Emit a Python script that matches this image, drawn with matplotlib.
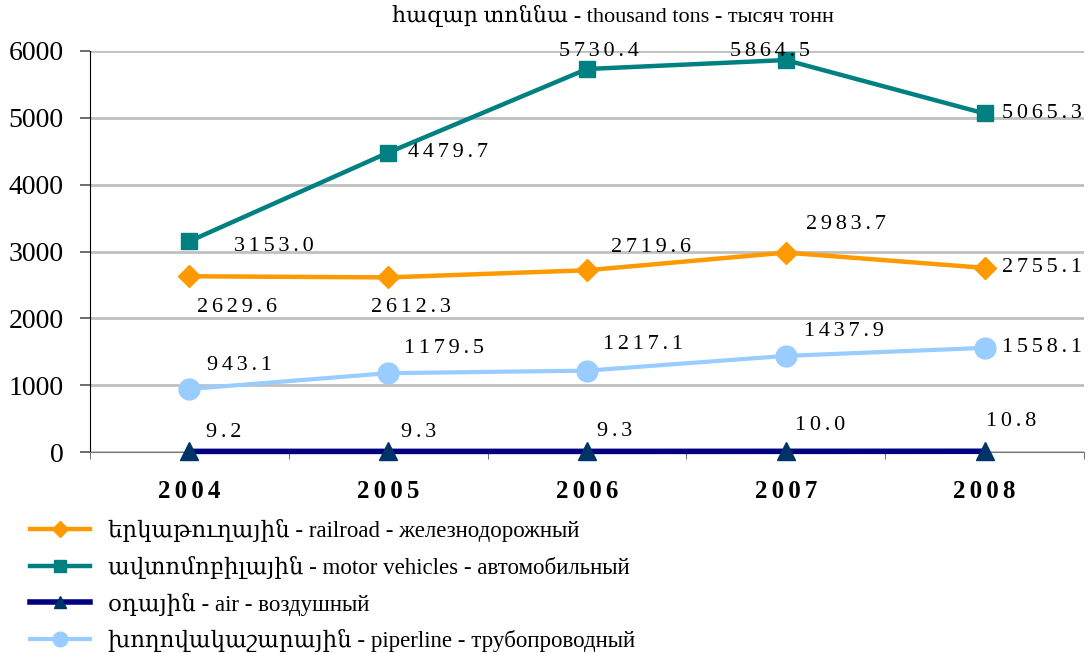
import matplotlib
matplotlib.use("Agg")
import matplotlib.pyplot as plt
from matplotlib.ticker import FixedLocator

plt.rcParams['font.family'] = ['Liberation Serif', 'DejaVu Serif']

years = ['2004', '2005', '2006', '2007', '2008']
railroad = [2629.6, 2612.3, 2719.6, 2983.7, 2755.1]
motor = [3153.0, 4479.7, 5730.4, 5864.5, 5065.3]
air = [9.2, 9.3, 9.3, 10.0, 10.8]
pipeline = [943.1, 1179.5, 1217.1, 1437.9, 1558.1]
yticks = [0, 1000, 2000, 3000, 4000, 5000, 6000]

labels = [
    'երկաթուղային - railroad - железнодорожный',
    'ավտոմոբիլային - motor vehicles - автомобильный',
    'օդային - air - воздушный',
    'խողովակաշարային - piperline - трубопроводный',
]
title = 'հազար տոննա - thousand tons - тысяч тонн'

# value label offsets from the marker, in pixels (dx, dy)
motor_off = [(84, -5), (60, 0), (12, 18), (-16, 9), (57, 0)]
rail_off = [(48, -31), (23, -30), (64, 23), (60, 28), (57, 0)]
pipe_off = [(50, 23), (56, 25), (56, 26), (58, 24), (57, 0)]
air_off = [(34, 19), (30, 19), (28, 20), (34, 26), (27, 30)]


def spaced(s):
    return '\u2006'.join(s)


fig = plt.figure(figsize=(10.88, 6.53), dpi=100)
ax = fig.add_axes([90 / 1088, 1 - 452 / 653, 994 / 1088, 401 / 653])
x = list(range(len(years)))

ax.plot(x, pipeline, color='#99CCFF', lw=3, marker='o', ms=15, zorder=3, label=labels[3])
ax.plot(x, railroad, color='#FF9900', lw=3.2, marker='D', ms=11, zorder=3, label=labels[0])
ax.plot(x, motor, color='#008080', lw=3.2, marker='s', ms=12, zorder=3, label=labels[1])
ax.plot(x, air, color='#000080', lw=4, marker='^', ms=13, mfc='#003366', mec='#003366',
        zorder=4, clip_on=False, label=labels[2])

for vals, offs in [(motor, motor_off), (railroad, rail_off), (pipeline, pipe_off), (air, air_off)]:
    for i, v in enumerate(vals):
        dx, dy = offs[i]
        ax.annotate(spaced(f'{v:.1f}'), (i, v), xytext=(dx, dy), textcoords='offset pixels',
                    ha='center', va='center', fontsize=16, color='black', zorder=5,
                    annotation_clip=False)

ax.set_xlim(-0.5, 4.5)
ax.set_ylim(0, 6000)
ax.set_yticks(yticks)
ax.set_yticklabels([str(t) for t in yticks], fontsize=20)
ax.yaxis.grid(True, color='#C0C0C0', lw=2)
ax.set_axisbelow(True)
ax.tick_params(axis='y', length=7, width=1.2, color='#555555', pad=12)

ax.set_xticks(x)
ax.set_xticklabels([spaced(y) for y in years], fontsize=18, fontweight='bold')
ax.xaxis.set_minor_locator(FixedLocator([i - 0.5 for i in range(len(years) + 1)]))
ax.tick_params(axis='x', which='major', length=0, pad=20)
ax.tick_params(axis='x', which='minor', length=5, color='#555555', direction='out')

for side in ['top', 'right']:
    ax.spines[side].set_visible(False)
ax.spines['left'].set_color('black')
ax.spines['bottom'].set_color('#777777')

fig.text(613 / 1088, 1 - 16 / 653, title, ha='center', va='center', fontsize=16)

handles, labs = ax.get_legend_handles_labels()
order = [1, 2, 3, 0]
fig.legend([handles[i] for i in order], [labs[i] for i in order], loc='upper left',
           bbox_to_anchor=(30 / 1088, 1 - 519 / 653), frameon=False, fontsize=16.5,
           handlelength=2.6, handletextpad=0.8, labelspacing=0.6, borderaxespad=0,
           borderpad=0, markerscale=0.7)

fig.savefig('out.png', dpi=100)
